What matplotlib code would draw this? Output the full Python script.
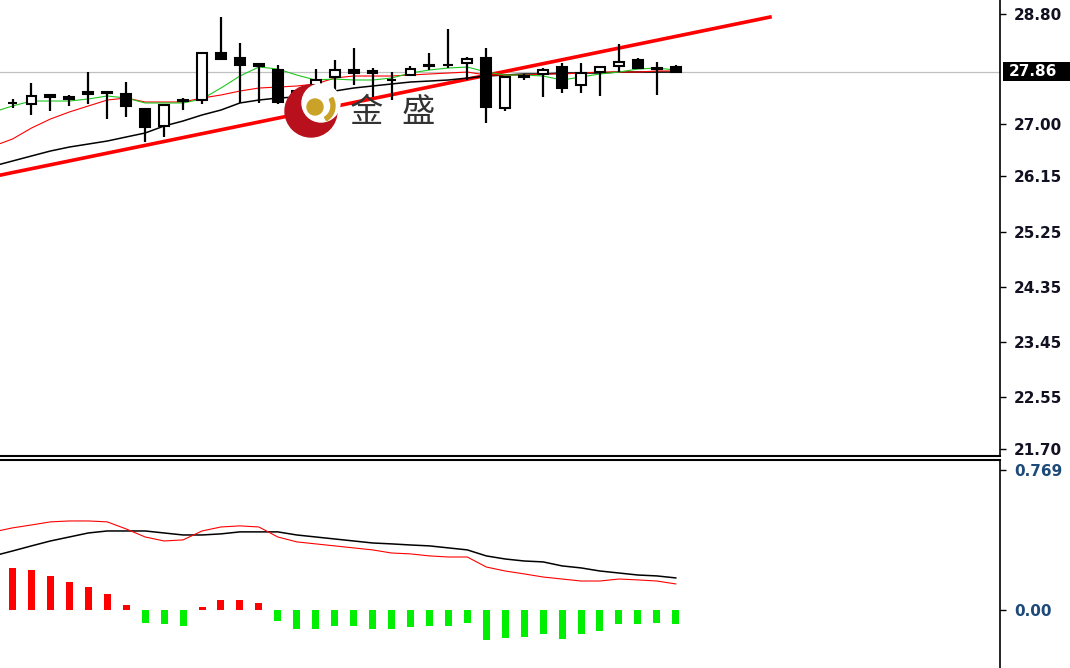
import matplotlib
matplotlib.use('Agg')
import matplotlib.pyplot as plt
from matplotlib.patches import Circle, Wedge, Rectangle
import matplotlib.transforms as mtransforms
import numpy as np

# candles, bar index 0..35
opens = [27.35, 27.33, 27.48, 27.45, 27.53, 27.53, 27.49, 27.25, 26.97, 27.38, 27.40, 28.16,
         28.08, 27.98, 27.89, 27.36, 27.64, 27.77, 27.89, 27.87, 27.72, 27.80, 27.95, 27.97,
         28.00, 28.08, 27.27, 27.79, 27.82, 27.94, 27.64, 27.85, 27.95, 28.05, 27.92, 27.94]
highs = [27.41, 27.67, 27.49, 27.48, 27.85, 27.53, 27.69, 27.27, 27.33, 27.43, 28.18, 28.75,
         28.33, 28.00, 27.97, 27.56, 27.90, 28.05, 28.25, 27.92, 27.85, 27.95, 28.16, 28.56,
         28.10, 28.25, 27.79, 27.82, 27.92, 28.00, 28.00, 27.95, 28.31, 28.08, 28.02, 27.96]
lows = [27.27, 27.15, 27.22, 27.30, 27.33, 27.09, 27.12, 26.71, 26.79, 27.23, 27.33, 28.07,
        27.35, 27.35, 27.33, 27.32, 27.48, 27.48, 27.64, 27.45, 27.40, 27.79, 27.89, 27.92,
        27.72, 27.02, 27.22, 27.72, 27.45, 27.51, 27.51, 27.46, 27.85, 27.92, 27.48, 27.85]
closes = [27.34, 27.46, 27.45, 27.41, 27.49, 27.51, 27.30, 26.96, 27.32, 27.39, 28.16, 28.07,
          27.97, 27.95, 27.36, 27.54, 27.72, 27.89, 27.84, 27.84, 27.73, 27.90, 27.96, 27.96,
          28.07, 27.28, 27.77, 27.78, 27.89, 27.59, 27.84, 27.94, 28.02, 27.92, 27.91, 27.86]

# moving averages, bar index -1..35
ma_fast = [27.201, 27.299, 27.380, 27.380, 27.380, 27.413, 27.462, 27.429, 27.348, 27.348,
           27.348, 27.413, 27.592, 27.788, 27.935, 27.902, 27.804, 27.723, 27.739, 27.723,
           27.723, 27.755, 27.837, 27.886, 27.919, 27.935, 27.853, 27.804, 27.804, 27.788,
           27.723, 27.772, 27.821, 27.853, 27.902, 27.919, 27.886]
ma_mid = [26.646, 26.760, 26.939, 27.086, 27.201, 27.299, 27.396, 27.429, 27.364, 27.364,
          27.364, 27.429, 27.478, 27.543, 27.592, 27.608, 27.625, 27.658, 27.755, 27.788,
          27.788, 27.788, 27.804, 27.821, 27.837, 27.853, 27.804, 27.804, 27.804, 27.821,
          27.821, 27.837, 27.853, 27.853, 27.853, 27.870, 27.870]
ma_slow = [26.319, 26.401, 26.483, 26.564, 26.629, 26.678, 26.727, 26.793, 26.858, 26.972,
           27.054, 27.152, 27.233, 27.348, 27.396, 27.429, 27.445, 27.494, 27.543, 27.592,
           27.625, 27.658, 27.690, 27.706, 27.723, 27.755, 27.788, 27.804, 27.821, 27.821,
           27.837, 27.837, 27.837, 27.853, 27.853, 27.853, 27.853]

trend_x = [-0.66, 39.97]
trend_y = [26.17, 28.75]

price_ticks = [28.80, 27.00, 26.15, 25.25, 24.35, 23.45, 22.55, 21.70]
last_price = 27.86

# MACD panel
macd_hist = [0.231, 0.220, 0.187, 0.154, 0.126, 0.088, 0.027, -0.071, -0.077, -0.088,
             0.016, 0.055, 0.055, 0.038, -0.060, -0.104, -0.104, -0.088, -0.088, -0.104,
             -0.104, -0.093, -0.088, -0.088, -0.071, -0.165, -0.154, -0.148, -0.132, -0.159,
             -0.132, -0.115, -0.077, -0.077, -0.071, -0.077]
macd_red = [0.429, 0.451, 0.467, 0.484, 0.489, 0.489, 0.484, 0.445, 0.401, 0.379, 0.385,
            0.434, 0.456, 0.462, 0.456, 0.401, 0.374, 0.363, 0.352, 0.341, 0.330, 0.313,
            0.308, 0.297, 0.291, 0.291, 0.236, 0.214, 0.198, 0.181, 0.170, 0.159, 0.159,
            0.170, 0.165, 0.159, 0.143]
macd_black = [0.297, 0.324, 0.352, 0.379, 0.401, 0.423, 0.434, 0.434, 0.434, 0.423, 0.412,
              0.412, 0.418, 0.429, 0.429, 0.429, 0.412, 0.401, 0.390, 0.379, 0.368, 0.363,
              0.357, 0.352, 0.341, 0.330, 0.297, 0.280, 0.269, 0.264, 0.242, 0.231, 0.214,
              0.203, 0.192, 0.187, 0.176]
macd_ticks = [0.769, 0.0]
macd_labels = ['0.769', '0.00']

W, H = 1070, 668
fig = plt.figure(figsize=(W / 100, H / 100), dpi=100)
fig.patch.set_facecolor('white')

ax = fig.add_axes([0, (H - 456) / H, 1000 / W, 456 / H])
ax2 = fig.add_axes([0, 0, 1000 / W, 208 / H])

idx = np.arange(len(opens))
ma_idx = np.arange(-1, len(opens))

xlim = (-0.66, 52.11)

# main price panel
ax.axhline(last_price, color='#c0c0c0', lw=0.9, zorder=1)
ax.plot(trend_x, trend_y, color='#ff0000', lw=2.6, zorder=2)
ax.plot(ma_idx, ma_slow, color='black', lw=1.1, zorder=3)
ax.plot(ma_idx, ma_mid, color='#ff0000', lw=0.8, zorder=3)
ax.plot(ma_idx, ma_fast, color='#1ec81e', lw=0.8, zorder=3)

ax.vlines(idx, lows, highs, color='black', lw=1.6, zorder=4)
o = np.array(opens)
c = np.array(closes)
bottoms = np.minimum(o, c)
heights = np.abs(c - o)
fills = ['white' if cl > op else 'black' for op, cl in zip(opens, closes)]
ax.bar(idx, heights, bottom=bottoms, width=0.52, color=fills, edgecolor='black',
       linewidth=1.5, zorder=5)

ax.set_xlim(*xlim)
ax.set_ylim(21.587, 29.0285)
ax.yaxis.tick_right()
ax.set_yticks(price_ticks)
ax.set_yticklabels(['%.2f' % t for t in price_ticks])
ax.set_xticks([])
ax.tick_params(axis='y', direction='out', length=4, width=1, pad=6, labelsize=11,
               labelcolor='#111122')
for lab in ax.get_yticklabels():
    lab.set_fontweight('bold')
for s in ['top', 'left']:
    ax.spines[s].set_visible(False)
ax.spines['right'].set_linewidth(1.2)
ax.spines['bottom'].set_linewidth(1.5)

# current price box on the scale
trans = mtransforms.blended_transform_factory(ax.transAxes, ax.transData)
ax.add_patch(Rectangle((1.003, last_price - 0.15), 0.07, 0.30, transform=trans,
                       facecolor='black', edgecolor='none', clip_on=False, zorder=6))
ax.text(1.009, last_price, '%.2f' % last_price, transform=trans, ha='left', va='center',
        color='white', fontsize=11, fontweight='bold', zorder=7, clip_on=False)

# MACD panel
hist_cols = ['#ff0000' if v > 0 else '#00ee00' for v in macd_hist]
ax2.bar(idx, macd_hist, width=0.37, color=hist_cols, zorder=2)
ax2.plot(ma_idx, macd_black, color='black', lw=1.1, zorder=3)
ax2.plot(ma_idx, macd_red, color='#ff0000', lw=0.8, zorder=3)
ax2.set_xlim(*xlim)
ax2.set_ylim(-0.319, 0.824)
ax2.yaxis.tick_right()
ax2.set_yticks(macd_ticks)
ax2.set_yticklabels(macd_labels)
ax2.set_xticks([])
ax2.tick_params(axis='y', direction='out', length=4, width=1, pad=6, labelsize=11,
                labelcolor='#1d4a78')
for lab in ax2.get_yticklabels():
    lab.set_fontweight('bold')
for s in ['bottom', 'left']:
    ax2.spines[s].set_visible(False)
ax2.spines['right'].set_linewidth(1.2)
ax2.spines['top'].set_linewidth(1.5)

# watermark logo
ov = fig.add_axes([0, 0, 1, 1], zorder=10)
ov.set_xlim(0, W)
ov.set_ylim(H, 0)
ov.axis('off')
ov.patch.set_alpha(0)
ov.add_patch(Circle((311, 111), 26, color='#b8101c'))
ov.add_patch(Circle((321, 103), 19, color='white'))
ov.add_patch(Wedge((318, 106), 17, 330, 60, width=4, color='#c9a227'))
ov.add_patch(Circle((315, 107), 8, color='#c9a227'))
ov.text(366, 112, '金', fontsize=24, color='#333333', ha='center', va='center',
        family=['Noto Sans CJK SC', 'DejaVu Sans'])
ov.text(418, 112, '盛', fontsize=24, color='#333333', ha='center', va='center',
        family=['Noto Sans CJK SC', 'DejaVu Sans'])

fig.savefig('out.png', dpi=100, facecolor='white')
